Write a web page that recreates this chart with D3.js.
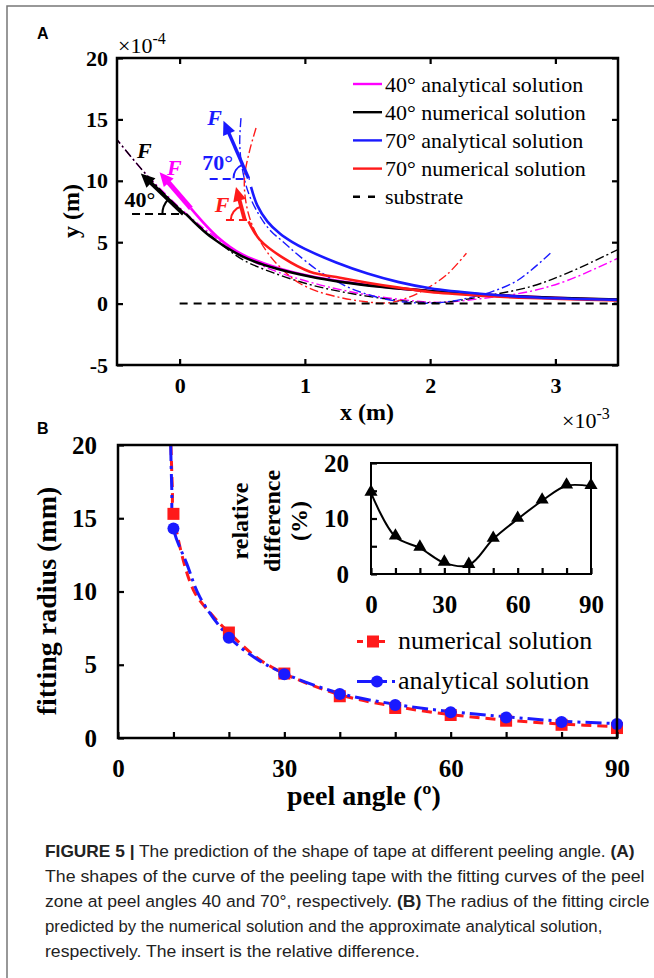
<!DOCTYPE html>
<meta charset="utf-8">
<script src="https://d3js.org/d3.v7.min.js"></script>
<style>
body{margin:0;background:#fff;}
</style>
<div id="vis"></div>
<script>

// ---------- Panel A data (x in 1e-3 m, y in 1e-4 m) ----------
var aXTicks = [0, 1, 2, 3];
var aYTicks = [-5, 0, 5, 10, 15, 20];

var ana40 = [[0.09,7.75],[0.3,5.45],[0.5,4.0],[0.77,2.95],[1.04,2.25],[1.3,1.8],[1.6,1.4],[2.0,1.02],[2.5,0.7],[3.0,0.47],[3.5,0.3]];
var num40 = [[0.05,7.3],[0.24,5.5],[0.5,3.85],[0.77,2.85],[1.04,2.2],[1.3,1.75],[1.6,1.38],[2.0,1.02],[2.5,0.7],[3.0,0.48],[3.5,0.32]];
var ana70 = [[0.57,9.5],[0.62,8.0],[0.7,6.7],[0.8,5.7],[0.9,5.0],[1.0,4.45],[1.25,3.35],[1.5,2.45],[1.75,1.75],[2.0,1.25],[2.4,0.8],[2.8,0.52],[3.5,0.3]];
var num70 = [[0.55,6.7],[0.64,5.2],[0.83,3.7],[1.04,2.6],[1.28,2.1],[1.5,1.7],[1.75,1.3],[2.0,0.95],[2.4,0.65],[2.8,0.45],[3.5,0.25]];

// fitting circles of the peel zone (dash-dot)
var fitAna40 = [[-0.52,13.6],[-0.3,10.9],[-0.1,8.8],[0.1,6.9],[0.3,5.3],[0.5,3.9],[0.75,2.7],[1.04,1.75],[1.3,1.1],[1.6,0.55],[1.9,0.2],[2.1,0.1],[2.4,0.4],[2.8,1.0],[3.1,1.9],[3.5,3.7]];
var fitNum40 = [[-0.52,13.6],[-0.3,10.9],[-0.1,8.7],[0.1,6.8],[0.3,5.1],[0.5,3.6],[0.75,2.5],[1.04,1.55],[1.3,0.95],[1.6,0.45],[1.9,0.12],[2.1,0.1],[2.4,0.55],[2.8,1.38],[3.1,2.5],[3.5,4.4]];
var fitAna70 = [[0.49,15.1],[0.48,13],[0.5,11],[0.55,9],[0.63,7.3],[0.72,6.0],[0.83,5.0],[0.93,4.1],[1.09,2.8],[1.2,2.1],[1.4,1.1],[1.65,0.35],[1.9,0.05],[2.1,0.1],[2.3,0.45],[2.5,1.0],[2.7,1.9],[2.96,4.1]];
var fitNum70 = [[0.61,14.3],[0.56,12.5],[0.52,10.5],[0.52,9],[0.55,7.3],[0.61,5.7],[0.72,3.9],[0.85,2.5],[0.95,1.7],[1.1,1.0],[1.28,0.5],[1.45,0.2],[1.65,0.05],[1.8,0.4],[1.95,1.1],[2.13,2.33],[2.29,4.1]];

var substrate = [[0, 0], [3.5, 0]];

// peel force arrows: base -> tip
var arrows = [
  {color: "#ff00ff", w: 5, from: [0.09, 7.75], to: [-0.16, 10.7]},
  {color: "#000",    w: 4, from: [0.03, 7.3],  to: [-0.31, 10.6]},
  {color: "#1a1aff", w: 3.5, from: [0.55, 10.2], to: [0.35, 14.9]},
  {color: "#ff1a1a", w: 4, from: [0.52, 6.8],  to: [0.45, 9.5]}
];
// horizontal reference lines for the angles
var angleRefs = [
  {color: "#000",    y: 7.3,   x0: -0.38, x1: 0.04, r: 21, base: 1},
  {color: "#1a1aff", y: 10.15, x0: 0.24,  x1: 0.56, r: 15, base: 2},
  {color: "#ff1a1a", y: 6.8,   x0: 0.37,  x1: 0.55, r: 14, base: 3}
];
var forceLabels = [
  {t: "F", color: "#000",    x: -0.34, y: 11.85},
  {t: "F", color: "#ff00ff", x: -0.10, y: 10.46},
  {t: "F", color: "#1a1aff", x: 0.22,  y: 14.53},
  {t: "F", color: "#ff1a1a", x: 0.28,  y: 7.46}
];
var angleLabels = [
  {t: "40°", color: "#000",    x: -0.44, y: 7.86},
  {t: "70°", color: "#1a1aff", x: 0.18,  y: 10.87}
];

var legendA = [
  {label: "40° analytical solution", color: "#ff00ff", dash: null},
  {label: "40° numerical solution",  color: "#000",    dash: null},
  {label: "70° analytical solution", color: "#1a1aff", dash: null},
  {label: "70° numerical solution",  color: "#ff1a1a", dash: null},
  {label: "substrate",               color: "#000",    dash: "7,8"}
];

// ---------- Panel B data ----------
var peelAngles = [10, 20, 30, 40, 50, 60, 70, 80, 90];
var radiusNum  = [15.3, 7.2, 4.4, 2.85, 2.05, 1.57, 1.18, 0.9, 0.68];
var radiusAna  = [14.3, 6.85, 4.35, 3.0, 2.25, 1.75, 1.4, 1.1, 0.95];
// fitted curves through the points
var fitNumX = [9.55, 9.8, 10, 13.6, 17.2, 20, 25, 30, 40, 50, 60, 70, 80, 90];
var fitNumY = [20, 17, 15.3, 10.1, 8.3, 7.2, 5.5, 4.4, 2.95, 2.15, 1.6, 1.22, 0.95, 0.78];
var fitAnaX = [9.5, 9.7, 10, 12.4, 14.8, 20, 25, 30, 40, 50, 60, 70, 80, 90];
var fitAnaY = [20, 17, 14.3, 11.9, 9.6, 6.9, 5.4, 4.4, 3.05, 2.3, 1.8, 1.45, 1.15, 0.98];
var bXTicks = [0, 10, 20, 30, 40, 50, 60, 70, 80, 90];
var bXLabels = [0, 30, 60, 90];
var bYTicks = [0, 5, 10, 15, 20];

// inset: relative difference (%)
var insetAngles = [0, 10, 20, 30, 40, 50, 60, 70, 80, 90];
var relDiff     = [14.6, 6.7, 4.7, 2.0, 1.6, 6.3, 9.9, 13.2, 15.9, 15.8];
var insetYTicks = [0, 5, 10, 15, 20];
var insetYLabels = [0, 10, 20];

var captionLines = [
  [["FIGURE 5 |", true], [" The prediction of the shape of tape at different peeling angle. ", false], ["(A)", true]],
  [["The shapes of the curve of the peeling tape with the fitting curves of the peel", false]],
  [["zone at peel angles 40 and 70°, respectively. ", false], ["(B)", true], [" The radius of the fitting circle", false]],
  [["predicted by the numerical solution and the approximate analytical solution,", false]],
  [["respectively. The insert is the relative difference.", false]]
];
var captionWidths = [590, 600, 605, 558, 375];

// ---------- drawing ----------
var W = 654, H = 978;
var serif = "Liberation Serif, Times New Roman, serif";
var sans = "Liberation Sans, Arial, sans-serif";
var svg = d3.select("#vis").append("svg").attr("width", W).attr("height", H)
  .attr("font-family", serif);

// figure border (top and left)
svg.append("path").attr("d", "M7,978V6H654")
  .attr("fill", "none").attr("stroke", "#777").attr("stroke-width", 1.5);

var intFmt = function(d) { return String(d); };

// ===== Panel A =====
var A = {left: 117, right: 618, top: 58, bottom: 365};
var xA = d3.scaleLinear().domain([-0.5, 3.5]).range([A.left, A.right]);
var yA = d3.scaleLinear().domain([-5, 20]).range([A.bottom, A.top]);

svg.append("clipPath").attr("id", "clipA").append("rect")
  .attr("x", A.left).attr("y", A.top).attr("width", A.right - A.left).attr("height", A.bottom - A.top);

var lineA = d3.line().x(function(d) { return xA(d[0]); }).y(function(d) { return yA(d[1]); })
  .curve(d3.curveCatmullRom.alpha(0.5));

var gA = svg.append("g").attr("clip-path", "url(#clipA)");

var fits = [
  {data: fitAna40, color: "#ff00ff"},
  {data: fitNum40, color: "#000"},
  {data: fitAna70, color: "#1a1aff"},
  {data: fitNum70, color: "#ff1a1a"}
];
fits.forEach(function(f) {
  gA.append("path").attr("d", lineA(f.data)).attr("fill", "none")
    .attr("stroke", f.color).attr("stroke-width", 1.4).attr("stroke-dasharray", "9,3,2,3");
});

gA.append("path").attr("d", lineA(substrate)).attr("fill", "none")
  .attr("stroke", "#000").attr("stroke-width", 2).attr("stroke-dasharray", "8,6");

[{data: ana40, color: "#ff00ff"}, {data: num40, color: "#000"},
 {data: num70, color: "#ff1a1a"}, {data: ana70, color: "#1a1aff"}].forEach(function(s) {
  gA.append("path").attr("d", lineA(s.data)).attr("fill", "none")
    .attr("stroke", s.color).attr("stroke-width", 2.6);
});

// angle reference lines and arcs
angleRefs.forEach(function(r) {
  gA.append("line").attr("x1", xA(r.x0)).attr("x2", xA(r.x1)).attr("y1", yA(r.y)).attr("y2", yA(r.y))
    .attr("stroke", r.color).attr("stroke-width", 2).attr("stroke-dasharray", "8,5");
  var ar = arrows[r.base];
  var bx = xA(ar.from[0]), by = yA(ar.from[1]);
  var tx = xA(ar.to[0]), ty = yA(ar.to[1]);
  var len = Math.hypot(tx - bx, ty - by);
  var ex = bx + r.r * (tx - bx) / len, ey = by + r.r * (ty - by) / len;
  gA.append("path")
    .attr("d", "M" + (bx - r.r) + "," + by + "A" + r.r + "," + r.r + " 0 0 1 " + ex + "," + ey)
    .attr("fill", "none").attr("stroke", r.color).attr("stroke-width", 2);
});

// force arrows
arrows.forEach(function(ar) {
  var bx = xA(ar.from[0]), by = yA(ar.from[1]);
  var tx = xA(ar.to[0]), ty = yA(ar.to[1]);
  var dx = tx - bx, dy = ty - by, len = Math.hypot(dx, dy);
  var ux = dx / len, uy = dy / len, hl = 14, hw = 6.5;
  svg.append("line").attr("x1", bx).attr("y1", by).attr("x2", tx - ux * hl * 0.8).attr("y2", ty - uy * hl * 0.8)
    .attr("stroke", ar.color).attr("stroke-width", ar.w);
  var p = [[tx, ty],
           [tx - ux * hl - uy * hw, ty - uy * hl + ux * hw],
           [tx - ux * hl + uy * hw, ty - uy * hl - ux * hw]];
  svg.append("path").attr("d", "M" + p.join("L") + "Z").attr("fill", ar.color);
});

forceLabels.forEach(function(l) {
  svg.append("text").attr("x", xA(l.x)).attr("y", yA(l.y)).text(l.t)
    .attr("fill", l.color).attr("font-size", 22).attr("font-weight", "bold").attr("font-style", "italic");
});
angleLabels.forEach(function(l) {
  svg.append("text").attr("x", xA(l.x)).attr("y", yA(l.y)).text(l.t)
    .attr("fill", l.color).attr("font-size", 22).attr("font-weight", "bold");
});

// frame and axes A
svg.append("rect").attr("x", A.left).attr("y", A.top).attr("width", A.right - A.left).attr("height", A.bottom - A.top)
  .attr("fill", "none").attr("stroke", "#000").attr("stroke-width", 2.5);

function styleAxis(g, size) {
  g.select(".domain").remove();
  g.selectAll("line").attr("stroke", "#000").attr("stroke-width", 2.2);
  g.attr("font-family", serif).attr("font-size", size).attr("font-weight", "bold");
  g.selectAll("text").attr("fill", "#000");
}

svg.append("g").attr("transform", "translate(0," + A.bottom + ")")
  .call(d3.axisBottom(xA).tickValues(aXTicks).tickSize(-6).tickPadding(12).tickFormat(intFmt))
  .call(styleAxis, 22);
svg.append("g").attr("transform", "translate(0," + A.top + ")")
  .call(d3.axisTop(xA).tickValues(aXTicks).tickSize(-6).tickFormat(""))
  .call(styleAxis, 22);
svg.append("g").attr("transform", "translate(" + A.left + ",0)")
  .call(d3.axisLeft(yA).tickValues(aYTicks).tickSize(-6).tickPadding(9).tickFormat(intFmt))
  .call(styleAxis, 22);
svg.append("g").attr("transform", "translate(" + A.right + ",0)")
  .call(d3.axisRight(yA).tickValues(aYTicks).tickSize(-6).tickFormat(""))
  .call(styleAxis, 22);

var e4 = svg.append("text").attr("x", 118).attr("y", 53).attr("font-size", 22);
e4.append("tspan").text("×10");
e4.append("tspan").attr("dy", -9).attr("font-size", 16).text("-4");
var e3 = svg.append("text").attr("x", 562).attr("y", 428).attr("font-size", 22);
e3.append("tspan").text("×10");
e3.append("tspan").attr("dy", -9).attr("font-size", 16).text("-3");

svg.append("text").attr("transform", "translate(79,211) rotate(-90)").attr("text-anchor", "middle")
  .attr("font-size", 24).attr("font-weight", "bold").text("y (m)");
svg.append("text").attr("x", 367).attr("y", 420).attr("text-anchor", "middle")
  .attr("font-size", 24).attr("font-weight", "bold").text("x (m)");

// legend A
legendA.forEach(function(l, i) {
  var cy = 84 + i * 28.2;
  svg.append("line").attr("x1", 353).attr("x2", l.dash ? 376 : 382).attr("y1", cy).attr("y2", cy)
    .attr("stroke", l.color).attr("stroke-width", 2.4).attr("stroke-dasharray", l.dash);
  svg.append("text").attr("x", 385).attr("y", cy + 7.5).attr("font-size", 22).text(l.label);
});

svg.append("text").attr("x", 37).attr("y", 39).attr("font-family", sans)
  .attr("font-size", 16).attr("font-weight", "bold").text("A");

// ===== Panel B =====
var B = {left: 118, right: 617, top: 445, bottom: 738};
var xB = d3.scaleLinear().domain([0, 90]).range([B.left, B.right]);
var yB = d3.scaleLinear().domain([0, 20]).range([B.bottom, B.top]);

svg.append("clipPath").attr("id", "clipB").append("rect")
  .attr("x", B.left).attr("y", B.top).attr("width", B.right - B.left).attr("height", B.bottom - B.top);
var gB = svg.append("g").attr("clip-path", "url(#clipB)");

var lineB = d3.line().x(function(d) { return xB(d[0]); }).y(function(d) { return yB(d[1]); })
  .curve(d3.curveCatmullRom.alpha(0.5));

gB.append("path").attr("d", lineB(d3.zip(fitNumX, fitNumY))).attr("fill", "none")
  .attr("stroke", "#ff1a1a").attr("stroke-width", 3).attr("stroke-dasharray", "10,6");
gB.append("path").attr("d", lineB(d3.zip(fitAnaX, fitAnaY))).attr("fill", "none")
  .attr("stroke", "#1a1aff").attr("stroke-width", 3).attr("stroke-dasharray", "16,5,3,5");

var sq = 12;
svg.selectAll(".sqNum").data(d3.zip(peelAngles, radiusNum)).enter().append("rect")
  .attr("x", function(d) { return xB(d[0]) - sq / 2; })
  .attr("y", function(d) { return yB(d[1]) - sq / 2; })
  .attr("width", sq).attr("height", sq).attr("fill", "#ff1a1a");
svg.selectAll(".cAna").data(d3.zip(peelAngles, radiusAna)).enter().append("circle")
  .attr("cx", function(d) { return xB(d[0]); })
  .attr("cy", function(d) { return yB(d[1]); })
  .attr("r", 6).attr("fill", "#1a1aff");

svg.append("rect").attr("x", B.left).attr("y", B.top).attr("width", B.right - B.left).attr("height", B.bottom - B.top)
  .attr("fill", "none").attr("stroke", "#000").attr("stroke-width", 2.5);

svg.append("g").attr("transform", "translate(0," + B.bottom + ")")
  .call(d3.axisBottom(xB).tickValues(bXTicks).tickSize(-6).tickFormat(""))
  .call(styleAxis, 25);
svg.append("g").attr("transform", "translate(0," + B.bottom + ")")
  .call(d3.axisBottom(xB).tickValues(bXLabels).tickSize(0).tickPadding(21).tickFormat(intFmt))
  .call(styleAxis, 25);
svg.append("g").attr("transform", "translate(" + B.left + ",0)")
  .call(d3.axisLeft(yB).tickValues(bYTicks).tickSize(-6).tickPadding(21).tickFormat(intFmt))
  .call(styleAxis, 25);

svg.append("text").attr("transform", "translate(56,601) rotate(-90)").attr("text-anchor", "middle")
  .attr("font-size", 28).attr("font-weight", "bold").text("fitting radius (mm)");
svg.append("text").attr("x", 364).attr("y", 805).attr("text-anchor", "middle")
  .attr("font-size", 28).attr("font-weight", "bold").text("peel angle (º)");

// legend B
svg.append("line").attr("x1", 357).attr("x2", 386).attr("y1", 641.5).attr("y2", 641.5)
  .attr("stroke", "#ff1a1a").attr("stroke-width", 3).attr("stroke-dasharray", "6,5");
svg.append("rect").attr("x", 373 - sq / 2).attr("y", 641.5 - sq / 2).attr("width", sq).attr("height", sq).attr("fill", "#ff1a1a");
svg.append("text").attr("x", 398).attr("y", 649).attr("font-size", 26).text("numerical solution");
svg.append("line").attr("x1", 357).attr("x2", 395).attr("y1", 681.5).attr("y2", 681.5)
  .attr("stroke", "#1a1aff").attr("stroke-width", 3).attr("stroke-dasharray", "30,5,3,5");
svg.append("circle").attr("cx", 377).attr("cy", 681.5).attr("r", 6).attr("fill", "#1a1aff");
svg.append("text").attr("x", 398).attr("y", 689).attr("font-size", 26).text("analytical solution");

svg.append("text").attr("x", 37).attr("y", 434).attr("font-family", sans)
  .attr("font-size", 16).attr("font-weight", "bold").text("B");

// ===== Inset =====
var I = {left: 371, right: 591, top: 463, bottom: 574};
var xI = d3.scaleLinear().domain([0, 90]).range([I.left, I.right]);
var yI = d3.scaleLinear().domain([0, 20]).range([I.bottom, I.top]);

var lineI = d3.line().x(function(d) { return xI(d[0]); }).y(function(d) { return yI(d[1]); })
  .curve(d3.curveCatmullRom.alpha(0.5));
svg.append("path").attr("d", lineI(d3.zip(insetAngles, relDiff))).attr("fill", "none")
  .attr("stroke", "#000").attr("stroke-width", 2);
var tri = d3.symbol().type(d3.symbolTriangle).size(75);
svg.selectAll(".tri").data(d3.zip(insetAngles, relDiff)).enter().append("path")
  .attr("d", tri)
  .attr("transform", function(d) { return "translate(" + xI(d[0]) + "," + (yI(d[1]) - 1) + ")"; })
  .attr("fill", "#000");

svg.append("rect").attr("x", I.left).attr("y", I.top).attr("width", I.right - I.left).attr("height", I.bottom - I.top)
  .attr("fill", "none").attr("stroke", "#000").attr("stroke-width", 2);
svg.append("g").attr("transform", "translate(0," + I.bottom + ")")
  .call(d3.axisBottom(xI).tickValues(bXTicks).tickSize(-6).tickFormat(""))
  .call(styleAxis, 25);
svg.append("g").attr("transform", "translate(0," + I.bottom + ")")
  .call(d3.axisBottom(xI).tickValues(bXLabels).tickSize(0).tickPadding(21).tickFormat(intFmt))
  .call(styleAxis, 25);
svg.append("g").attr("transform", "translate(" + I.left + ",0)")
  .call(d3.axisLeft(yI).tickValues(insetYTicks).tickSize(-6).tickFormat(""))
  .call(styleAxis, 25);
svg.append("g").attr("transform", "translate(" + I.left + ",0)")
  .call(d3.axisLeft(yI).tickValues(insetYLabels).tickSize(0).tickPadding(22).tickFormat(intFmt))
  .call(styleAxis, 25);

[["relative", 248], ["difference", 280], ["(%)", 307]].forEach(function(t) {
  svg.append("text").attr("transform", "translate(" + t[1] + ",521) rotate(-90)").attr("text-anchor", "middle")
    .attr("font-size", 24).attr("font-weight", "bold").text(t[0]);
});

// ===== Caption =====
captionLines.forEach(function(parts, i) {
  var t = svg.append("text").attr("font-family", sans)
    .attr("font-size", 16.5).attr("fill", "#222")
    .attr("transform", "translate(45," + (857 + i * 25) + ")");
  parts.forEach(function(p) {
    t.append("tspan").attr("font-weight", p[1] ? "bold" : "normal").text(p[0]);
  });
  var w = t.node().getComputedTextLength();
  t.attr("transform", "translate(45," + (857 + i * 25) + ") scale(" + (captionWidths[i] / w) + ",1)");
});

</script>
